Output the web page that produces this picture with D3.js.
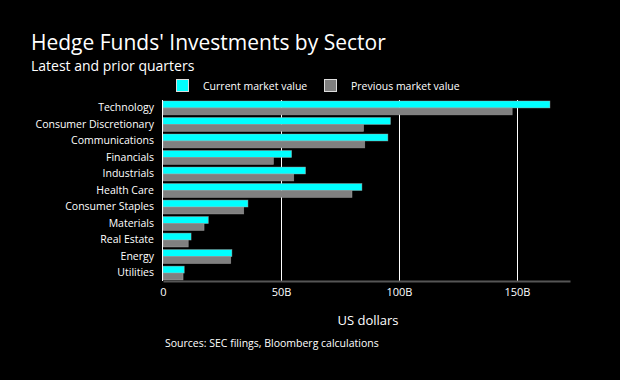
<!DOCTYPE html>
<html>
<head>
<meta charset="utf-8">
<script src="https://cdn.jsdelivr.net/npm/d3@7"></script>
<style>
  html, body { margin: 0; padding: 0; background: #000; }
  svg { display: block; font-family: "Open Sans", "Noto Sans", sans-serif; }
</style>
</head>
<body>
<div id="chart"></div>
<script>
// Hedge funds' investments by sector, current vs previous quarter (billions USD)

var sectors = ["Technology", "Consumer Discretionary", "Communications", "Financials",
    "Industrials", "Health Care", "Consumer Staples", "Materials", "Real Estate",
    "Energy", "Utilities"];

var currentValues = [164, 96.4, 95.3, 54.5, 60.4, 84.3, 36, 19.2, 11.9, 29.2, 9];
var previousValues = [148, 85, 85.5, 46.8, 55.4, 80.1, 34.2, 17.4, 10.7, 28.7, 8.5];

var seriesNames = ["Current market value", "Previous market value"];
var seriesColors = ["#00ffff", "#808080"];

var tickValues = [0, 50, 100, 150];
var tickLabels = ["0", "50B", "100B", "150B"];

(function() {

    var width = 620;
    var height = 380;

    var margin = { left: 163, right: 50, top: 100, bottom: 99 };

    var rows = sectors.map(function(s, i) {
        return { sector: s, values: [currentValues[i], previousValues[i]] };
    });

    var svg = d3.select("#chart")
        .append("svg")
        .attr("width", width)
        .attr("height", height);

    svg.append("rect")
        .attr("width", width)
        .attr("height", height)
        .attr("fill", "#000000");

    // Title
    svg.append("text")
        .attr("x", 31)
        .attr("y", 50)
        .attr("fill", "#ffffff")
        .attr("font-size", "21px")
        .text("Hedge Funds' Investments by Sector");

    svg.append("text")
        .attr("x", 31)
        .attr("y", 71)
        .attr("fill", "#ffffff")
        .attr("font-size", "14px")
        .text("Latest and prior quarters");

    // Legend
    var legendX = [176, 324];
    seriesNames.forEach(function(name, i) {
        svg.append("rect")
            .attr("x", legendX[i] + 0.5)
            .attr("y", 79.5)
            .attr("width", 12)
            .attr("height", 12)
            .attr("fill", seriesColors[i])
            .attr("stroke", "#dddddd")
            .attr("stroke-width", 1);

        svg.append("text")
            .attr("x", legendX[i] + 27)
            .attr("y", 90)
            .attr("fill", "#ffffff")
            .attr("font-size", "10.5px")
            .text(name);
    });

    var x = d3.scaleLinear()
        .domain([0, 172.5])
        .range([margin.left, width - margin.right]);

    var y = d3.scaleBand()
        .domain(sectors)
        .range([margin.top, height - margin.bottom])
        .paddingInner(0.16)
        .paddingOuter(0.06);

    var ySub = d3.scaleBand()
        .domain([0, 1])
        .range([0, y.bandwidth()]);

    var plotTop = margin.top;
    var plotBottom = height - margin.bottom;

    // Vertical gridlines
    svg.append("g")
        .selectAll("line")
        .data(tickValues.slice(1))
        .enter()
        .append("line")
        .attr("x1", function(d) { return Math.round(x(d)) + 0.5; })
        .attr("x2", function(d) { return Math.round(x(d)) + 0.5; })
        .attr("y1", plotTop)
        .attr("y2", plotBottom)
        .attr("stroke", "#ffffff")
        .attr("stroke-width", 1);

    // Bars
    var groups = svg.append("g")
        .selectAll("g")
        .data(rows)
        .enter()
        .append("g")
        .attr("transform", function(d) {
            return "translate(0," + y(d.sector) + ")";
        });

    groups.selectAll("rect")
        .data(function(d) { return d.values; })
        .enter()
        .append("rect")
        .attr("x", x(0))
        .attr("y", function(d, i) { return ySub(i); })
        .attr("width", function(d) { return x(d) - x(0); })
        .attr("height", ySub.bandwidth())
        .attr("fill", function(d, i) { return seriesColors[i]; })
        .attr("stroke", "#b0b0b0")
        .attr("stroke-opacity", 0.6)
        .attr("stroke-width", 0.7);

    // Left axis line
    svg.append("line")
        .attr("x1", x(0) - 0.5)
        .attr("x2", x(0) - 0.5)
        .attr("y1", plotTop)
        .attr("y2", plotBottom)
        .attr("stroke", "#ffffff")
        .attr("stroke-width", 1);

    // Category labels
    var yAxis = svg.append("g")
        .attr("transform", "translate(" + (x(0) - 9) + ",0)")
        .call(d3.axisLeft(y).tickSize(0).tickPadding(0));

    yAxis.select(".domain").remove();
    yAxis.selectAll("text")
        .attr("fill", "#ffffff")
        .attr("font-size", "10.5px")
        .attr("font-family", "Open Sans, sans-serif");

    // Bottom axis
    var xAxis = svg.append("g")
        .attr("transform", "translate(0," + plotBottom + ")")
        .call(d3.axisBottom(x)
            .tickValues(tickValues)
            .tickSize(0)
            .tickPadding(7)
            .tickFormat(function(d, i) { return tickLabels[i]; }));

    xAxis.select(".domain")
        .attr("stroke", "#555555")
        .attr("stroke-width", 2);

    xAxis.selectAll("text")
        .attr("fill", "#ffffff")
        .attr("font-size", "11px")
        .attr("font-family", "Open Sans, sans-serif");

    // Axis title
    svg.append("text")
        .attr("x", 368)
        .attr("y", 325)
        .attr("text-anchor", "middle")
        .attr("fill", "#ffffff")
        .attr("font-size", "13px")
        .text("US dollars");

    // Source
    svg.append("text")
        .attr("x", 165)
        .attr("y", 347)
        .attr("fill", "#ffffff")
        .attr("font-size", "10.5px")
        .text("Sources: SEC filings, Bloomberg calculations");

})();
</script>
</body>
</html>
